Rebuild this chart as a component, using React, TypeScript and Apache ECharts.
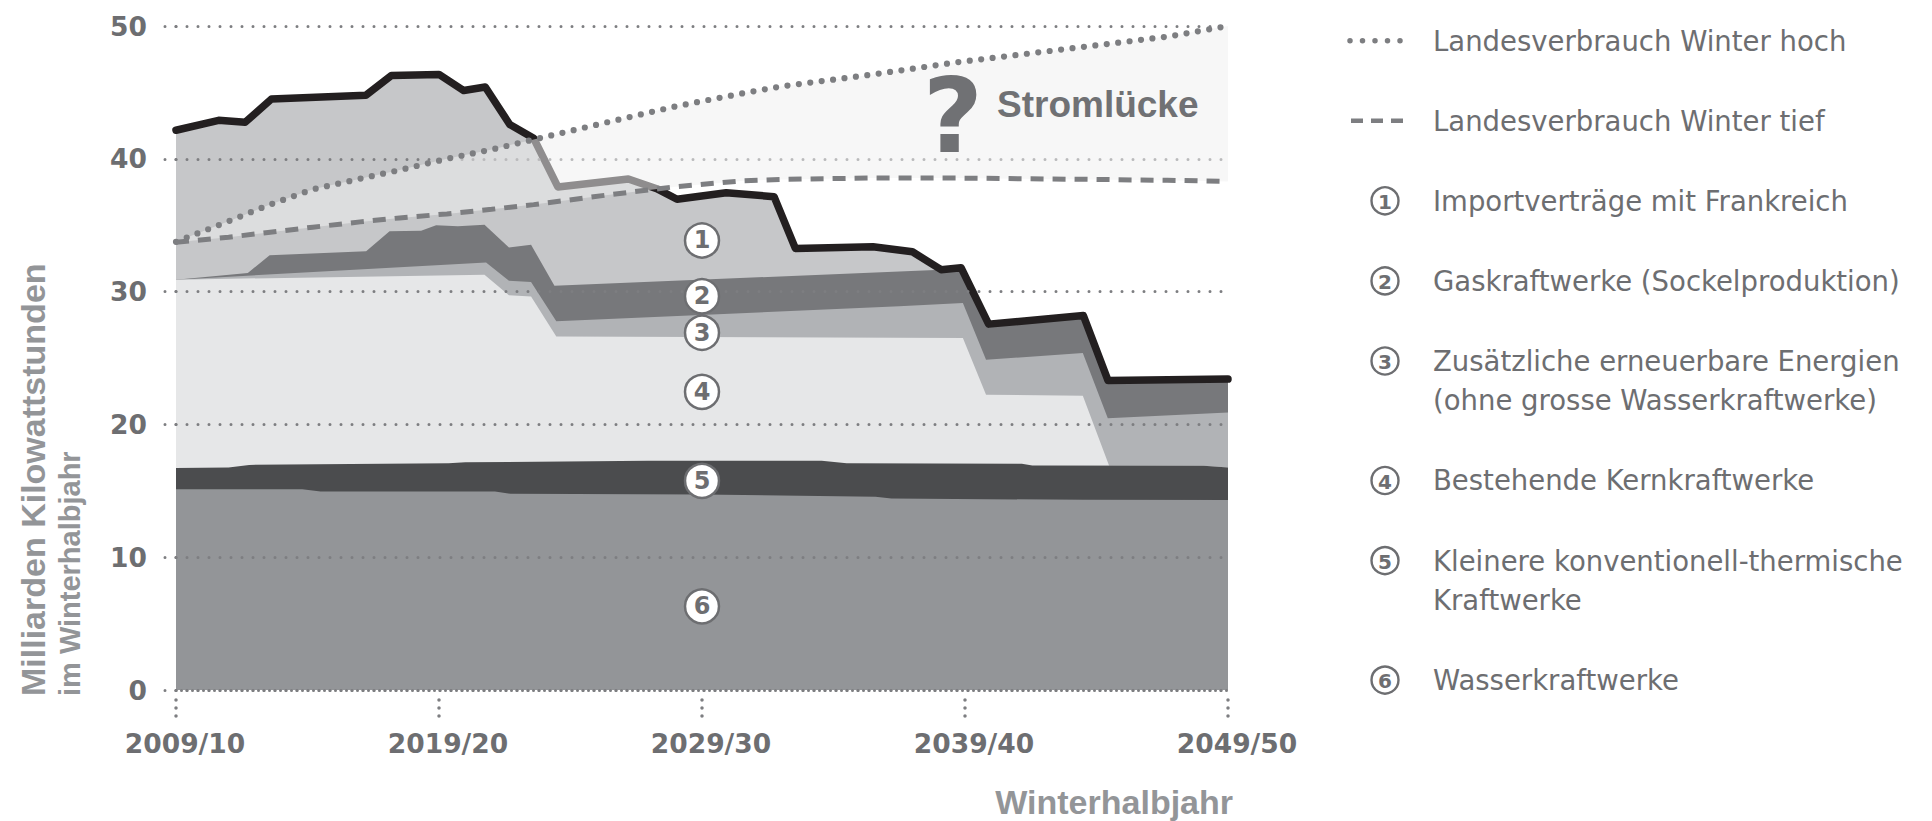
import React, { useEffect, useRef } from "react";
import * as echarts from "echarts";

// x = years after winter 2009/10
const xTickLabels = ["2009/10", "2019/20", "2029/30", "2039/40", "2049/50"];

// Cumulative upper boundary of each supply layer [years after 2009/10, bn kWh]
const topImport = [[0,42.15],[1.62,42.9],[2.63,42.75],[3.63,44.5],[7.22,44.78],[8.19,46.27],[10.0,46.35],[10.94,45.14],[11.76,45.41],[12.69,42.58],[13.6,41.55],[14.52,37.88],[17.2,38.48],[18.28,37.75],[19.05,36.95],[20.92,37.45],[22.74,37.15],[23.55,33.25],[26.5,33.38],[28.0,33.0],[29.09,31.65],[29.85,31.8],[30.9,27.55],[34.5,28.2],[35.44,23.3],[40,23.41]];
const topGas = [[0,30.9],[2.73,31.4],[3.56,32.73],[7.23,33.03],[8.12,34.54],[9.32,34.59],[9.89,34.99],[10.72,34.92],[11.73,35.04],[12.66,33.33],[13.5,33.53],[14.39,30.44],[29.09,31.65],[29.85,31.8],[30.9,27.55],[34.5,28.2],[35.44,23.3],[40,23.41]];
const topRenewable = [[0,30.9],[11.79,32.2],[12.66,30.82],[13.5,30.72],[14.46,27.76],[27.5,28.89],[29.92,29.14],[30.8,24.87],[34.48,25.37],[35.43,20.47],[40,20.9]];
const topNuclear = [[0,30.9],[11.73,31.27],[12.66,29.72],[13.5,29.64],[14.46,26.62],[29.92,26.5],[30.8,22.23],[34.48,22.16],[35.48,16.89],[39.08,16.88],[40,16.75]];
const topThermal = [[0,16.72],[2.0,16.75],[2.78,16.95],[10.37,17.08],[11.0,17.15],[17.97,17.26],[24.55,17.26],[25.5,17.08],[32.16,17.03],[32.56,16.9],[39.08,16.88],[40,16.75]];
const topHydro = [[0,15.12],[4.8,15.12],[5.5,14.95],[12.13,14.95],[12.73,14.77],[20,14.72],[26.6,14.55],[27.2,14.42],[34.5,14.32],[40,14.3]];

// Winter consumption scenarios
const demandYears = [0,2,3.5,5.2,7,8.5,10.3,12,13.6,16.5,19,21.6,23,26.3,29.7,34.8,37.7,40];
const demandHigh = [33.75,35.3,36.5,37.7,38.5,39.15,40.0,40.7,41.45,42.8,43.95,44.95,45.45,46.3,47.27,48.5,49.2,50.0];
const demandLow = [33.71,34.1,34.45,34.85,35.25,35.55,35.85,36.2,36.55,37.3,37.9,38.35,38.45,38.55,38.55,38.45,38.38,38.3];

const layerNames = ["Importverträge", "Gaskraftwerke", "Erneuerbare", "Kernkraftwerke", "Konventionell-thermisch", "Wasserkraftwerke"];
const layerNumbers = ["1", "2", "3", "4", "5", "6"];
const layerLabelYear = 20;
const layerLabelValues = [33.85, 29.65, 26.9, 22.45, 15.75, 6.3];

const lineLegend = ["Landesverbrauch Winter hoch", "Landesverbrauch Winter tief"];
const layerLegend = [
  "Importverträge mit Frankreich",
  "Gaskraftwerke (Sockelproduktion)",
  "Zusätzliche erneuerbare Energien\n(ohne grosse Wasserkraftwerke)",
  "Bestehende Kernkraftwerke",
  "Kleinere konventionell-thermische\nKraftwerke",
  "Wasserkraftwerke",
];

const layerColors = ["#c6c7c9", "#77787b", "#b1b3b6", "#e6e7e8", "#4b4c4e", "#939598"];
const TXT = "#6d6e71";
const TITLE = "#939598";
const DOT = "#7d7e81";

function buildOption() {
  const layers = [topImport, topGas, topRenewable, topNuclear, topThermal, topHydro];
  const areaSeries = layers.map((d, i) => ({
    type: "line",
    name: layerNames[i],
    data: d,
    symbol: "none",
    z: 2,
    silent: true,
    lineStyle: { width: 0, opacity: 0 },
    areaStyle: { color: layerColors[i], opacity: 1 },
  }));

  const legendRowsY = [40.7, 120.7, 200.8, 280.9, 361, 480.5, 560.6, 680.1];
  const legendX = 1433;
  const iconX = 1385;
  const lh = 39.4;
  const graphics: any[] = [];
  graphics.push({ type: "line", shape: { x1: 1350, y1: legendRowsY[0], x2: 1401, y2: legendRowsY[0] },
    style: { stroke: DOT, lineWidth: 5.5, lineDash: [0, 12.5], lineCap: "round" } });
  graphics.push({ type: "line", shape: { x1: 1351, y1: legendRowsY[1], x2: 1403, y2: legendRowsY[1] },
    style: { stroke: DOT, lineWidth: 4.5, lineDash: [12, 8] } });
  const allLegend = [...lineLegend, ...layerLegend];
  allLegend.forEach((t, i) => {
    graphics.push({ type: "text", x: legendX, y: legendRowsY[i] - lh / 2,
      style: { text: t, fill: TXT, fontSize: 27.5, fontFamily: "DejaVu Sans", lineHeight: lh,
        textAlign: "left", textVerticalAlign: "top" } });
  });
  layerNumbers.forEach((n, i) => {
    const cy = legendRowsY[i + 2];
    graphics.push({ type: "circle", shape: { cx: iconX, cy, r: 13.5 },
      style: { fill: "#fff", stroke: TXT, lineWidth: 2.4 } });
    graphics.push({ type: "text", x: iconX, y: cy + 1,
      style: { text: n, fill: TXT, fontSize: 20, fontWeight: "bold", fontFamily: "DejaVu Sans",
        textAlign: "center", textVerticalAlign: "middle" } });
  });
  graphics.push({ type: "text", x: 33, y: 696, rotation: Math.PI / 2,
    style: { text: "Milliarden Kilowattstunden", fill: TITLE, fontSize: 34, fontWeight: "bold",
      fontFamily: "Liberation Sans", textAlign: "left", textVerticalAlign: "middle" } });
  graphics.push({ type: "text", x: 70, y: 696, rotation: Math.PI / 2,
    style: { text: "im Winterhalbjahr", fill: TITLE, fontSize: 29, fontWeight: "bold",
      fontFamily: "Liberation Sans", textAlign: "left", textVerticalAlign: "middle" } });
  graphics.push({ type: "text", x: 1233, y: 802,
    style: { text: "Winterhalbjahr", fill: TITLE, fontSize: 34, fontWeight: "bold",
      fontFamily: "Liberation Sans", textAlign: "right", textVerticalAlign: "middle" } });
  graphics.push({ type: "text", x: 953, y: 116, z: 20,
    style: { text: "?", fill: "#707174", fontSize: 104, fontWeight: "bold",
      fontFamily: "DejaVu Sans", textAlign: "center", textVerticalAlign: "middle" } });
  graphics.push({ type: "text", x: 997, y: 104, z: 20,
    style: { text: "Stromlücke", fill: "#707174", fontSize: 37, fontWeight: "bold",
      fontFamily: "Liberation Sans", textAlign: "left", textVerticalAlign: "middle" } });

  const xBase = { type: "value", min: 0, max: 40, interval: 10, gridIndex: 0 };

  return {
    animation: false,
    backgroundColor: "#ffffff",
    grid: { left: 176, right: 704, top: 26, bottom: 131, containLabel: false, outerBoundsMode: "none" },
    xAxis: [
      { ...xBase, position: "bottom", z: 4,
        axisLine: { show: true, lineStyle: { color: DOT, width: 3, type: [0, 5.5], cap: "round" } },
        axisTick: { show: false }, axisLabel: { show: false }, splitLine: { show: false } },
      { ...xBase, position: "bottom", offset: 10, z: 4,
        axisLine: { show: false },
        axisTick: { show: true, length: 20, lineStyle: { color: DOT, width: 3.5, type: [0, 8], cap: "round" } },
        axisLabel: { show: true, margin: 30, color: TXT, fontSize: 26.5, fontWeight: "bold",
          fontFamily: "DejaVu Sans", padding: [0, 0, 0, 18],
          formatter: (v: number) => xTickLabels[Math.round(v / 10)] ?? "" },
        splitLine: { show: false } },
    ],
    yAxis: {
      type: "value", min: 0, max: 50, interval: 10, z: 4,
      axisLine: { show: false },
      axisTick: { show: true, length: 13, lineStyle: { color: DOT, width: 3, type: [0, 11], cap: "round" } },
      axisLabel: { margin: 29, color: TXT, fontSize: 26.5, fontWeight: "bold", fontFamily: "DejaVu Sans" },
      splitLine: { show: true, lineStyle: { color: DOT, width: 3, type: [0, 11], cap: "round" } },
    },
    graphic: graphics,
    series: [
      ...areaSeries,
      { type: "line", name: "Total", data: topImport, symbol: "none", z: 3, clip: false, silent: true,
        lineStyle: { color: "#231f20", width: 7.5, join: "round", cap: "round" } },
      { type: "custom", name: "Stromlücke", z: 5, silent: true,
        data: demandYears.map((t, i) => [t, demandHigh[i], demandLow[i]]),
        encode: { x: 0, y: [1, 2] },
        renderItem: (params: any, api: any) => {
          if (params.dataIndex !== 0) return null;
          const upper = demandYears.map((t, i) => api.coord([t, demandHigh[i]]));
          const lower = demandYears.map((t, i) => api.coord([t, demandLow[i]])).reverse();
          return { type: "polygon", shape: { points: upper.concat(lower) },
            style: { fill: "rgba(240,240,240,0.53)" } };
        } },
      { type: "line", name: lineLegend[0], symbol: "none", z: 6, clip: false, silent: true,
        data: demandYears.map((t, i) => [t, demandHigh[i]]),
        lineStyle: { color: DOT, width: 6.2, type: [0, 11.5], cap: "round" } },
      { type: "line", name: lineLegend[1], symbol: "none", z: 6, clip: false, silent: true,
        data: demandYears.map((t, i) => [t, demandLow[i]]),
        lineStyle: { color: DOT, width: 5, type: [13, 9], cap: "butt" } },
      { type: "scatter", name: "labels", z: 7, silent: true,
        data: layerLabelValues.map((v) => [layerLabelYear, v]),
        symbol: "circle", symbolSize: 34,
        itemStyle: { color: "#ffffff", borderColor: TXT, borderWidth: 2.5, opacity: 1 },
        label: { show: true, position: "inside", color: TXT, fontSize: 24, fontWeight: "bold",
          fontFamily: "DejaVu Sans", formatter: (p: any) => layerNumbers[p.dataIndex] } },
    ],
  };
}

export default function App() {
  const ref = useRef<HTMLDivElement>(null);
  useEffect(() => {
    if (!ref.current) return;
    const chart = echarts.init(ref.current, null, { renderer: "svg" });
    chart.setOption(buildOption() as any);
    return () => chart.dispose();
  }, []);
  return (
    <div
      ref={ref}
      style={{ position: "fixed", left: 0, top: 0, width: "1932px", height: "821px", background: "#fff" }}
    />
  );
}
